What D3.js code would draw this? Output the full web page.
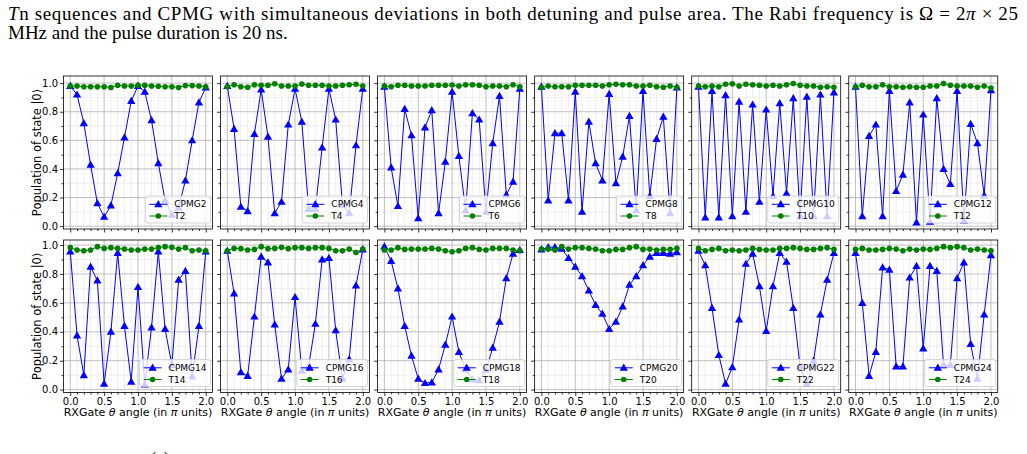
<!DOCTYPE html>
<html><head><meta charset="utf-8">
<script src="https://cdn.jsdelivr.net/npm/d3@7"></script>
<style>body{margin:0;background:#fff}svg{display:block}</style>
</head><body>
<svg id="c" width="1027" height="454"></svg>
<script>
// ---- data ----
const theta = [0.0,0.1,0.2,0.3,0.4,0.5,0.6,0.7,0.8,0.9,1.0,1.1,1.2,1.3,1.4,1.5,1.6,1.7,1.8,1.9,2.0];
const xTicks = [0.0,0.5,1.0,1.5,2.0];
const xMinor = [0.1,0.2,0.3,0.4,0.6,0.7,0.8,0.9,1.1,1.2,1.3,1.4,1.6,1.7,1.8,1.9];
const yTicks = [0.0,0.2,0.4,0.6,0.8,1.0];
const yMinor = [0.1,0.3,0.5,0.7,0.9];
const seqN = [2,4,6,8,10,12,14,16,18,20,22,24];

const cpmg2  = [0.98,0.92,0.72,0.43,0.16,0.065,0.145,0.37,0.62,0.875,0.98,0.94,0.74,0.44,0.18,0.08,0.13,0.32,0.60,0.865,0.97];
const cpmg4  = [0.98,0.68,0.135,0.105,0.645,0.955,0.625,0.09,0.17,0.71,0.96,0.73,0.12,0.12,0.55,0.96,0.745,0.15,0.09,0.565,0.96];
const cpmg6  = [0.975,0.41,0.14,0.82,0.635,0.055,0.69,0.81,0.09,0.45,0.94,0.49,0.11,0.79,0.745,0.10,0.58,0.91,0.22,0.31,0.96];
const cpmg8  = [0.975,0.18,0.65,0.65,0.18,0.94,0.10,0.73,0.44,0.32,0.925,0.30,0.485,0.77,0.11,0.945,0.21,0.61,0.765,0.09,0.97];
const cpmg10 = [0.975,0.06,0.945,0.06,0.915,0.07,0.87,0.10,0.85,0.17,0.815,0.21,0.86,0.23,0.895,0.07,0.905,0.07,0.92,0.07,0.935];
const cpmg12 = [0.975,0.07,0.63,0.71,0.07,0.945,0.245,0.36,0.865,0.025,0.78,0.03,0.895,0.40,0.295,0.945,0.04,0.715,0.58,0.215,0.95];
const cpmg14 = [0.955,0.375,0.10,0.85,0.755,0.04,0.40,0.945,0.44,0.055,0.71,0.035,0.43,0.955,0.42,0.17,0.76,0.82,0.09,0.44,0.955];
const cpmg16 = [0.96,0.665,0.12,0.095,0.505,0.92,0.88,0.45,0.075,0.14,0.64,0.13,0.16,0.455,0.90,0.91,0.41,0.075,0.21,0.72,0.97];
const cpmg18 = [0.99,0.89,0.70,0.44,0.235,0.075,0.045,0.05,0.14,0.31,0.505,0.26,0.14,0.07,0.065,0.135,0.29,0.47,0.77,0.94,0.965];
const cpmg20 = [0.97,0.985,0.985,0.975,0.91,0.85,0.785,0.685,0.585,0.525,0.42,0.47,0.575,0.725,0.785,0.86,0.92,0.945,0.945,0.94,0.95];
const cpmg22 = [0.96,0.86,0.565,0.24,0.04,0.155,0.485,0.87,0.94,0.715,0.405,0.715,0.945,0.885,0.565,0.16,0.04,0.20,0.52,0.76,0.945];
const cpmg24 = [0.945,0.60,0.095,0.26,0.845,0.83,0.16,0.16,0.775,0.855,0.285,0.855,0.82,0.17,0.17,0.77,0.88,0.315,0.075,0.52,0.93];

const t2  = [0.98,0.98,0.975,0.975,0.975,0.975,0.97,0.985,0.98,0.98,0.985,0.985,0.98,0.978,0.975,0.975,0.97,0.983,0.983,0.98,0.975];
const t4  = [0.975,0.989,0.975,0.971,0.989,0.985,0.985,0.996,0.98,0.98,0.98,0.994,0.985,0.985,0.985,0.98,0.98,0.985,0.989,0.992,0.98];
const t6  = [0.98,0.975,0.985,0.985,0.98,0.98,0.98,0.985,0.985,0.985,0.987,0.98,0.989,0.989,0.985,0.975,0.98,0.98,0.975,0.989,0.975];
const t8  = [0.969,0.98,0.975,0.975,0.975,0.985,0.985,0.985,0.985,0.98,0.989,0.992,0.989,0.989,0.98,0.98,0.985,0.975,0.971,0.98,0.971];
const t10 = [0.98,0.975,0.98,0.975,0.992,0.996,0.98,0.992,0.989,0.985,0.98,0.985,0.98,0.989,0.998,0.985,0.98,0.98,0.971,0.975,0.971];
const t12 = [0.975,0.985,0.975,0.975,0.989,0.975,0.975,0.971,0.975,0.971,0.971,0.98,0.98,0.998,0.985,0.98,0.98,0.98,0.971,0.98,0.966];
const t14 = [0.982,0.966,0.961,0.966,0.989,0.977,0.982,0.977,0.972,0.966,0.966,0.972,0.972,0.982,0.989,0.984,0.972,0.982,0.961,0.966,0.961];
const t16 = [0.961,0.977,0.975,0.966,0.97,0.989,0.975,0.977,0.984,0.975,0.982,0.982,0.977,0.982,0.982,0.977,0.961,0.961,0.972,0.949,0.972];
const t18 = [0.966,0.966,0.982,0.97,0.972,0.972,0.972,0.977,0.972,0.961,0.954,0.961,0.977,0.982,0.97,0.966,0.977,0.977,0.977,0.966,0.961];
const t20 = [0.972,0.972,0.966,0.989,0.972,0.982,0.982,0.977,0.972,0.961,0.961,0.97,0.97,0.982,0.989,0.97,0.972,0.966,0.97,0.97,0.977];
const t22 = [0.977,0.961,0.97,0.977,0.961,0.966,0.961,0.966,0.977,0.97,0.966,0.966,0.977,0.977,0.982,0.977,0.97,0.97,0.977,0.982,0.97];
const t24 = [0.97,0.977,0.966,0.966,0.97,0.977,0.972,0.961,0.972,0.966,0.972,0.97,0.977,0.989,0.982,0.989,0.982,0.966,0.972,0.966,0.961];

const cpmgSeries = [cpmg2,cpmg4,cpmg6,cpmg8,cpmg10,cpmg12,cpmg14,cpmg16,cpmg18,cpmg20,cpmg22,cpmg24];
const tSeries = [t2,t4,t6,t8,t10,t12,t14,t16,t18,t20,t22,t24];

const captionLine1 = ["T", "n sequences and CPMG with simultaneous deviations in both detuning and pulse area. The Rabi frequency is Ω = 2", "π", " × 25"];
const captionLine2 = "MHz and the pulse duration is 20 ns.";
const xLabelText = ["RXGate ", "θ", " angle (in ", "π", " units)"];
const yLabelText = "Population of state |0⟩";

// ---- layout ----
const svg = d3.select("#c");
const FONT = "DejaVu Sans, sans-serif";
const SERIF = "Liberation Serif, Times New Roman, serif";
const blue = "#0000ff", green = "#008000";
const col0 = 63.5, colStep = 157.05, panelW = 149;
const rows = [{top:76, bottom:229, dom:[-0.02,1.05]}, {top:240, bottom:392.5, dom:[-0.02,1.035]}];

// caption
const cap1 = svg.append("text").attr("x",8).attr("y",20)
  .attr("font-family",SERIF).attr("font-size",19)
  .attr("textLength",1010).attr("lengthAdjust","spacing");
captionLine1.forEach((s,i)=>{ const t=cap1.append("tspan").text(s); if(i===0||i===2) t.attr("font-style","italic"); });
svg.append("text").attr("x",8).attr("y",39)
  .attr("font-family",SERIF).attr("font-size",19).text(captionLine2);
svg.append("text").attr("x",150).attr("y",465)
  .attr("font-family",SERIF).attr("font-size",18).text("(a)");

const tri = d3.symbol().type(d3.symbolTriangle).size(30);

seqN.forEach((n,i)=>{
  const r = Math.floor(i/6), c = i%6;
  const R = rows[r];
  const left = col0 + c*colStep;
  const h = R.bottom - R.top;
  const x = d3.scaleLinear().domain([-0.1,2.1]).range([0,panelW]);
  const y = d3.scaleLinear().domain(R.dom).range([h,0]);
  const g = svg.append("g").attr("transform",`translate(${left},${R.top})`);

  // grids
  g.append("g").selectAll("line").data(xMinor).join("line")
    .attr("x1",d=>x(d)).attr("x2",d=>x(d)).attr("y1",0).attr("y2",h)
    .attr("stroke","#e4e4e4").attr("stroke-width",0.6);
  g.append("g").selectAll("line").data(yMinor).join("line")
    .attr("y1",d=>y(d)).attr("y2",d=>y(d)).attr("x1",0).attr("x2",panelW)
    .attr("stroke","#e4e4e4").attr("stroke-width",0.6);
  g.append("g").selectAll("line").data(xTicks).join("line")
    .attr("x1",d=>x(d)).attr("x2",d=>x(d)).attr("y1",0).attr("y2",h)
    .attr("stroke","#b0b0b0").attr("stroke-width",0.8);
  g.append("g").selectAll("line").data(yTicks).join("line")
    .attr("y1",d=>y(d)).attr("y2",d=>y(d)).attr("x1",0).attr("x2",panelW)
    .attr("stroke","#b0b0b0").attr("stroke-width",0.8);

  // axes
  const xa = d3.axisBottom(x).tickValues(xTicks).tickSize(3.5).tickPadding(2)
    .tickFormat(r===1 ? d3.format(".1f") : "");
  const xg = g.append("g").attr("transform",`translate(0,${h})`).call(xa);
  const xm = g.append("g").attr("transform",`translate(0,${h})`).call(d3.axisBottom(x).tickValues(xMinor).tickSize(2).tickFormat(""));
  const ya = d3.axisLeft(y).tickValues(yTicks).tickSize(3.5).tickPadding(2)
    .tickFormat(c===0 ? d3.format(".1f") : "");
  const yg = g.append("g").call(ya);
  const ym = g.append("g").call(d3.axisLeft(y).tickValues(yMinor).tickSize(2).tickFormat(""));
  [xg,xm,yg,ym].forEach(a=>{ a.select(".domain").remove(); a.selectAll("line").attr("stroke","#000").attr("stroke-width",0.8);
    a.selectAll("text").attr("font-family",FONT).attr("font-size",10).attr("fill","#000"); });

  // series
  const cp = cpmgSeries[i], tt = tSeries[i];
  const line = d3.line().x((d,k)=>x(theta[k])).y(d=>y(d));
  g.append("path").datum(cp).attr("d",line).attr("fill","none").attr("stroke",blue).attr("stroke-width",1);
  g.append("g").selectAll("path").data(cp).join("path")
    .attr("transform",(d,k)=>`translate(${x(theta[k])},${y(d)+0.6})`).attr("d",tri).attr("fill",blue);
  g.append("path").datum(tt).attr("d",line).attr("fill","none").attr("stroke",green).attr("stroke-width",1);
  g.append("g").selectAll("circle").data(tt).join("circle")
    .attr("cx",(d,k)=>x(theta[k])).attr("cy",d=>y(d)).attr("r",2.8).attr("fill",green);

  // spines
  g.append("rect").attr("x",0).attr("y",0).attr("width",panelW).attr("height",h)
    .attr("fill","none").attr("stroke","#000").attr("stroke-width",0.8);

  // legend
  const fs = 9;
  const lg = g.append("g");
  const labels = ["CPMG"+n, "T"+n];
  const tmp = lg.append("text").attr("font-family",FONT).attr("font-size",fs).text(labels[0]);
  const tw = tmp.node().getComputedTextLength(); tmp.remove();
  const bw = 4 + 18 + 7 + tw + 4, bh = 27;
  const bx = panelW - 2 - bw, by = h - 6 - bh;
  lg.append("rect").attr("x",bx).attr("y",by).attr("width",bw).attr("height",bh).attr("rx",2)
    .attr("fill","#fff").attr("fill-opacity",0.8).attr("stroke","#cccccc").attr("stroke-width",0.8);
  [0,1].forEach(k=>{
    const cy = by + 8.3 + k*11.7;
    const col = k===0 ? blue : green;
    lg.append("line").attr("x1",bx+4).attr("x2",bx+22).attr("y1",cy).attr("y2",cy).attr("stroke",col).attr("stroke-width",1);
    if(k===0) lg.append("path").attr("transform",`translate(${bx+13},${cy+0.6})`).attr("d",tri).attr("fill",col);
    else lg.append("circle").attr("cx",bx+13).attr("cy",cy).attr("r",2.8).attr("fill",col);
    lg.append("text").attr("x",bx+29).attr("y",cy).attr("dy","0.35em").attr("font-family",FONT).attr("font-size",fs).text(labels[k]);
  });

  // axis labels
  if(r===1){
    const xl = svg.append("text").attr("x",left+panelW/2).attr("y",416).attr("text-anchor","middle")
      .attr("font-family",FONT).attr("font-size",11);
    xLabelText.forEach((s,k)=>{ const t=xl.append("tspan").text(s); if(k===1||k===3) t.attr("font-style","italic"); });
  }
  if(c===0){
    svg.append("text").attr("transform",`translate(41,${(R.top+R.bottom)/2}) rotate(-90)`).attr("text-anchor","middle")
      .attr("font-family",FONT).attr("font-size",11.5).text(yLabelText);
  }
});
</script>
</body></html>
